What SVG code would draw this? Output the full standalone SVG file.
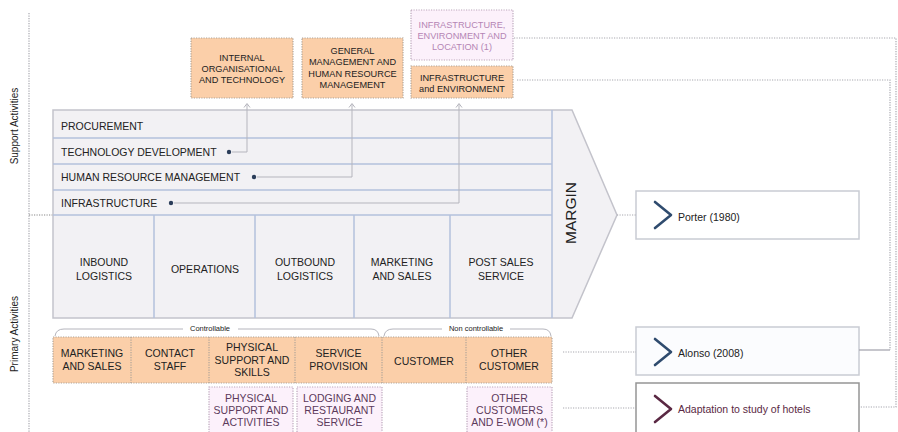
<svg xmlns="http://www.w3.org/2000/svg" width="898" height="432" viewBox="0 0 898 432">
<style>
text{font-family:"Liberation Sans",Arial,sans-serif;fill:#222}
.lbl{font-size:10.5px}
.sm{font-size:9.2px;text-anchor:middle}
.bt{font-size:10.5px;text-anchor:middle}
.c{text-anchor:middle}
.pk{fill:#5c3a5c}
.pkl{fill:#b585b5}
.row{stroke:#b3c0dc;stroke-width:1.5;fill:none}
.dot{fill:#2b3d5a}
.con{stroke:#b5b5bd;stroke-width:1;fill:none}
.dotl{stroke:#a8a8b0;stroke-width:1.2;stroke-dasharray:1.2 1.3;fill:none}
.or{fill:#fbcfa9;stroke:#b0a498;stroke-width:1.2;stroke-dasharray:1.2 1.3}
.pb{fill:#fcf1fb;stroke:#bba6bb;stroke-width:1.2;stroke-dasharray:1.2 1.3}
.ref{fill:#fff;stroke:#c9ccd3;stroke-width:1.5}
.chev{fill:none;stroke:#2f4b6e;stroke-width:2.6;stroke-linecap:round;stroke-linejoin:round}
.tiny{font-size:7.5px;text-anchor:middle}
</style>

<g id="axes">
<line x1="29" y1="13" x2="29" y2="432" class="dotl"/>
<line x1="29" y1="215" x2="53" y2="215" class="dotl" style="stroke:#888"/>
<text class="lbl c" transform="translate(18,126) rotate(-90)" style="font-size:10px">Support Activities</text>
<text class="lbl c" transform="translate(18,334) rotate(-90)" style="font-size:10px">Primary Activities</text>
</g>

<g id="value-chain">
<path d="M53,110 H572 L617,215 L572,318 H53 Z" fill="#f2f1f4" stroke="#c3c3cb" stroke-width="1.5"/>
<line x1="53" y1="138" x2="552" y2="138" class="row"/>
<line x1="53" y1="164" x2="552" y2="164" class="row"/>
<line x1="53" y1="190" x2="552" y2="190" class="row"/>
<line x1="53" y1="215" x2="552" y2="215" class="row"/>
<line x1="552" y1="110" x2="552" y2="318" class="row"/>
<line x1="154" y1="215" x2="154" y2="318" class="row"/>
<line x1="255" y1="215" x2="255" y2="318" class="row"/>
<line x1="354" y1="215" x2="354" y2="318" class="row"/>
<line x1="450" y1="215" x2="450" y2="318" class="row"/>
<text x="61" y="130" class="lbl">PROCUREMENT</text>
<text x="61" y="156" class="lbl">TECHNOLOGY DEVELOPMENT</text>
<text x="61" y="181" class="lbl">HUMAN RESOURCE MANAGEMENT</text>
<text x="61" y="207" class="lbl">INFRASTRUCTURE</text>
<circle cx="229" cy="152" r="2.2" class="dot"/>
<circle cx="254" cy="177" r="2.2" class="dot"/>
<circle cx="171" cy="203" r="2.2" class="dot"/>
<text x="104" y="266" class="bt">INBOUND</text>
<text x="104" y="280" class="bt">LOGISTICS</text>
<text x="205" y="273" class="bt">OPERATIONS</text>
<text x="305" y="266" class="bt">OUTBOUND</text>
<text x="305" y="280" class="bt">LOGISTICS</text>
<text x="402" y="266" class="bt">MARKETING</text>
<text x="402" y="280" class="bt">AND SALES</text>
<text x="501" y="266" class="bt">POST SALES</text>
<text x="501" y="280" class="bt">SERVICE</text>
<text transform="translate(576,213) rotate(-90)" class="c" style="font-size:15.5px">MARGIN</text>
</g>

<g id="box-internal">
<rect x="191" y="38" width="102" height="60" class="or"/>
<text x="242" y="60.5" class="sm">INTERNAL</text>
<text x="242" y="71.5" class="sm">ORGANISATIONAL</text>
<text x="242" y="82.5" class="sm">AND TECHNOLOGY</text>
</g>
<g id="box-general">
<rect x="302" y="38" width="101" height="60" class="or"/>
<text x="352.5" y="53.5" class="sm">GENERAL</text>
<text x="352.5" y="65" class="sm">MANAGEMENT AND</text>
<text x="352.5" y="76.5" class="sm">HUMAN RESOURCE</text>
<text x="352.5" y="87.5" class="sm">MANAGEMENT</text>
</g>
<g id="box-infra-loc">
<rect x="411" y="10" width="102" height="50" class="pb"/>
<text x="462" y="27.5" class="sm pkl">INFRASTRUCTURE,</text>
<text x="462" y="38.5" class="sm pkl">ENVIRONMENT AND</text>
<text x="462" y="50" class="sm pkl">LOCATION (1)</text>
</g>
<g id="box-infra-env">
<rect x="411" y="66" width="102" height="32" class="or"/>
<text x="462" y="80.5" class="sm">INFRASTRUCTURE</text>
<text x="462" y="91.5" class="sm">and ENVIRONMENT</text>
</g>

<g id="primary-detail">
<rect x="53" y="337" width="499" height="46" class="or"/>
<line x1="131" y1="337" x2="131" y2="383" class="or"/>
<line x1="209" y1="337" x2="209" y2="383" class="or"/>
<line x1="295" y1="337" x2="295" y2="383" class="or"/>
<line x1="382" y1="337" x2="382" y2="383" class="or"/>
<line x1="466" y1="337" x2="466" y2="383" class="or"/>
<text x="92" y="357" class="bt">MARKETING</text>
<text x="92" y="370" class="bt">AND SALES</text>
<text x="170" y="357" class="bt">CONTACT</text>
<text x="170" y="370" class="bt">STAFF</text>
<text x="252" y="351" class="bt">PHYSICAL</text>
<text x="252" y="364" class="bt">SUPPORT AND</text>
<text x="252" y="376" class="bt">SKILLS</text>
<text x="338.5" y="357" class="bt">SERVICE</text>
<text x="338.5" y="370" class="bt">PROVISION</text>
<text x="424" y="365" class="bt">CUSTOMER</text>
<text x="509" y="357" class="bt">OTHER</text>
<text x="509" y="370" class="bt">CUSTOMER</text>
<path d="M55,336 Q56,329 64,329 H183 M238,329 H371 Q378,329 379,336" class="con"/>
<path d="M384,336 Q385,329 393,329 H442 M510,329 H543 Q550,329 551,336" class="con"/>
<text x="210" y="331" class="tiny">Controllable</text>
<text x="476" y="331" class="tiny">Non controllable</text>
</g>

<g id="box-physical">
<rect x="209" y="387" width="84" height="50" class="pb"/>
<text x="251" y="402" class="bt pk">PHYSICAL</text>
<text x="251" y="414" class="bt pk">SUPPORT AND</text>
<text x="251" y="426" class="bt pk">ACTIVITIES</text>
</g>
<g id="box-lodging">
<rect x="297" y="387" width="85" height="50" class="pb"/>
<text x="339.5" y="402" class="bt pk">LODGING AND</text>
<text x="339.5" y="414" class="bt pk">RESTAURANT</text>
<text x="339.5" y="426" class="bt pk">SERVICE</text>
</g>
<g id="box-other">
<rect x="467" y="387" width="85" height="50" class="pb"/>
<text x="509.5" y="402" class="bt pk">OTHER</text>
<text x="509.5" y="414" class="bt pk">CUSTOMERS</text>
<text x="509.5" y="426" class="bt pk">AND E-WOM (*)</text>
</g>

<g id="ref-porter">
<rect x="636" y="191" width="223" height="48" class="ref"/>
<path d="M655,202 L671,215 L655,228" class="chev"/>
<text x="678" y="220.5" class="lbl">Porter (1980)</text>
</g>
<g id="ref-alonso">
<rect x="636" y="327" width="223" height="48" class="ref" style="fill:#fbfcfe"/>
<path d="M655,339 L671,352 L655,365" class="chev"/>
<text x="678" y="356.5" class="lbl">Alonso (2008)</text>
</g>
<g id="ref-adaptation">
<rect x="636" y="383" width="223" height="52" class="ref" style="stroke:#959595"/>
<path d="M655,396 L671,409 L655,422" class="chev" style="stroke:#5a2843"/>
<text x="678" y="412.5" class="lbl" style="fill:#5a2843">Adaptation to study of hotels</text>
</g>

<g id="connectors">
<path d="M232,152 H247 V104 M244,107.5 L247,103.5 L250,107.5" class="con"/>
<path d="M257,177 H352 V104 M349,107.5 L352,103.5 L355,107.5" class="con"/>
<path d="M174,203 H459 V104 M456,107.5 L459,103.5 L462,107.5" class="con"/>
<line x1="617" y1="215" x2="636" y2="215" class="dotl"/>
<line x1="563" y1="352" x2="636" y2="352" class="dotl"/>
<line x1="563" y1="408" x2="636" y2="408" class="dotl"/>
<path d="M517,80 H890 V350" class="dotl"/>
<path d="M859,350 H890" class="con" style="stroke:#a8a8b0;stroke-width:1.3"/>
<path d="M514,38 H896 V407 H859" class="dotl"/>
</g>
</svg>
